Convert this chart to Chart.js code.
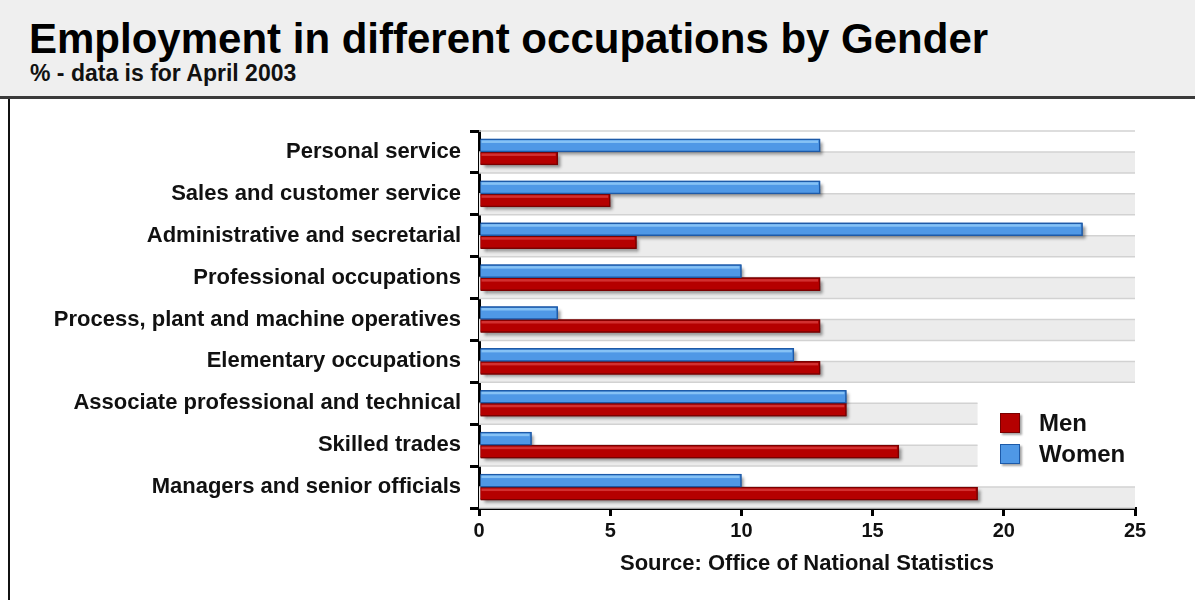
<!DOCTYPE html>
<html>
<head>
<meta charset="utf-8">
<script src="https://cdn.jsdelivr.net/npm/chart.js@4"></script>
<style>
  body { margin: 0; width: 1195px; height: 600px; overflow: hidden; background: #fff; font-family: "Liberation Sans", Arial, sans-serif; }
  #header { position: absolute; left: 0; top: 0; width: 1195px; height: 96px; background: #efefef; border-bottom: 3px solid #3a3a3a; }
  #title { position: absolute; left: 29px; top: 18px; margin: 0; font-size: 42px; font-weight: bold; line-height: 1; color: #000; }
  #subtitle { position: absolute; left: 30px; top: 62px; font-size: 23px; font-weight: bold; line-height: 1; color: #111; }
  #panel { position: absolute; left: 8px; top: 99px; width: 1187px; height: 501px; border-left: 2px solid #111; }
  #wrap { position: absolute; left: 10px; top: 100px; width: 1185px; height: 500px; }
  #legend { position: absolute; left: 1000px; top: 407px; font-size: 24px; font-weight: bold; color: #111; }
  .item { display: flex; align-items: center; height: 31px; }
  .box { width: 18px; height: 18px; margin-right: 19px; box-shadow: 2px 2px 2px rgba(0,0,0,0.35); }
</style>
</head>
<body>
<div id="header">
  <h1 id="title">Employment in different occupations by Gender</h1>
  <div id="subtitle">% - data is for April 2003</div>
</div>
<div id="panel"></div>
<div id="wrap"><canvas id="chart" width="1185" height="500"></canvas></div>
<div id="legend"></div>
<script>
const categories = [
    "Personal service",
    "Sales and customer service",
    "Administrative and secretarial",
    "Professional occupations",
    "Process, plant and machine operatives",
    "Elementary occupations",
    "Associate professional and technical",
    "Skilled trades",
    "Managers and senior officials"
];
const women = [13, 13, 23, 10, 3, 12, 14, 2, 10];
const men = [3, 5, 6, 13, 13, 13, 14, 16, 19];
const xTicks = [0, 5, 10, 15, 20, 25];
const sourceText = "Source: Office of National Statistics";

const blue = "#4f98e6", blueEdge = "#1d5aa8", blueLight = "#86c2f5";
const red = "#b50000", redEdge = "#7a0000", redLight = "#d23030";
const font = "'Liberation Sans', Arial, sans-serif";

// rows where the band is shortened to leave room for the legend
const legendRows = [6, 7];
const legendBandEnd = 19;

const backdrop = {
    id: "backdrop",
    beforeDatasetsDraw(chart) {
        const {ctx, scales: {x, y}} = chart;
        const x0 = x.getPixelForValue(0);
        ctx.save();
        categories.forEach((c, i) => {
            const top = y.getPixelForValue(i - 0.5);
            const mid = y.getPixelForValue(i);
            const bot = y.getPixelForValue(i + 0.5);
            const x1 = x.getPixelForValue(legendRows.includes(i) ? legendBandEnd : x.max);
            ctx.fillStyle = "#ececec";
            ctx.fillRect(x0, mid, x1 - x0, bot - mid);
            ctx.strokeStyle = "#d2d2d2";
            ctx.lineWidth = 1.5;
            ctx.beginPath();
            ctx.moveTo(x0, mid); ctx.lineTo(x1, mid);
            ctx.moveTo(x0, bot); ctx.lineTo(x1, bot);
            ctx.stroke();
            if (i === 0) {
                ctx.beginPath();
                ctx.moveTo(x0, top); ctx.lineTo(x1, top);
                ctx.stroke();
            }
        });
        // drop shadows under the bars
        ctx.shadowColor = "rgba(0,0,0,0.4)";
        ctx.shadowOffsetX = 3;
        ctx.shadowOffsetY = 3;
        ctx.shadowBlur = 3;
        chart.data.datasets.forEach((ds, di) => {
            chart.getDatasetMeta(di).data.forEach(bar => {
                const {x: bx, y: by, base, height} = bar.getProps(["x", "y", "base", "height"]);
                ctx.fillStyle = ds.borderColor;
                ctx.fillRect(base, by - height / 2, bx - base, height);
            });
        });
        ctx.restore();
    },
    afterDatasetsDraw(chart) {
        const {ctx} = chart;
        ctx.save();
        chart.data.datasets.forEach((ds, di) => {
            chart.getDatasetMeta(di).data.forEach(bar => {
                const {x: bx, y: by, base, height} = bar.getProps(["x", "y", "base", "height"]);
                ctx.fillStyle = di === 0 ? blueLight : redLight;
                ctx.fillRect(base + 1, by - height / 2 + 1.5, bx - base - 3, 2.5);
            });
        });
        ctx.restore();
    }
};

new Chart(document.getElementById("chart"), {
    type: "bar",
    data: {
        labels: categories,
        datasets: [
            {label: "Women", data: women, backgroundColor: blue, borderColor: blueEdge, borderWidth: 1.5, barThickness: 13},
            {label: "Men", data: men, backgroundColor: red, borderColor: redEdge, borderWidth: 1.5, barThickness: 13}
        ]
    },
    options: {
        indexAxis: "y",
        responsive: false,
        animation: false,
        layout: {padding: {top: 31, right: 60, left: 0, bottom: 0}},
        plugins: {legend: {display: false}, tooltip: {enabled: false}},
        scales: {
            x: {
                min: 0, max: 25,
                afterBuildTicks: s => { s.ticks = xTicks.map(v => ({value: v})); },
                afterFit: s => { s.height = 92; },
                border: {color: "#000", width: 3},
                grid: {drawOnChartArea: false, color: "#000", lineWidth: 3, tickLength: 8},
                ticks: {color: "#111", font: {family: font, size: 20, weight: "bold"}, padding: 3},
                title: {display: true, text: sourceText, color: "#111", font: {family: font, size: 22, weight: "bold"}, padding: {bottom: 23}}
            },
            y: {
                afterFit: s => { s.width = 469; },
                border: {color: "#000", width: 3},
                grid: {drawOnChartArea: false, color: "#000", lineWidth: 3, tickLength: 9, offset: true},
                ticks: {color: "#111", font: {family: font, size: 22, weight: "bold"}, padding: 9}
            }
        }
    },
    plugins: [backdrop]
});

const legend = document.getElementById("legend");
[["Men", red, redEdge], ["Women", blue, blueEdge]].forEach(([name, fill, edge]) => {
    const item = document.createElement("div");
    item.className = "item";
    item.innerHTML = `<span class="box" style="background:${fill};border:1px solid ${edge}"></span>${name}`;
    legend.appendChild(item);
});
</script>
</body>
</html>
